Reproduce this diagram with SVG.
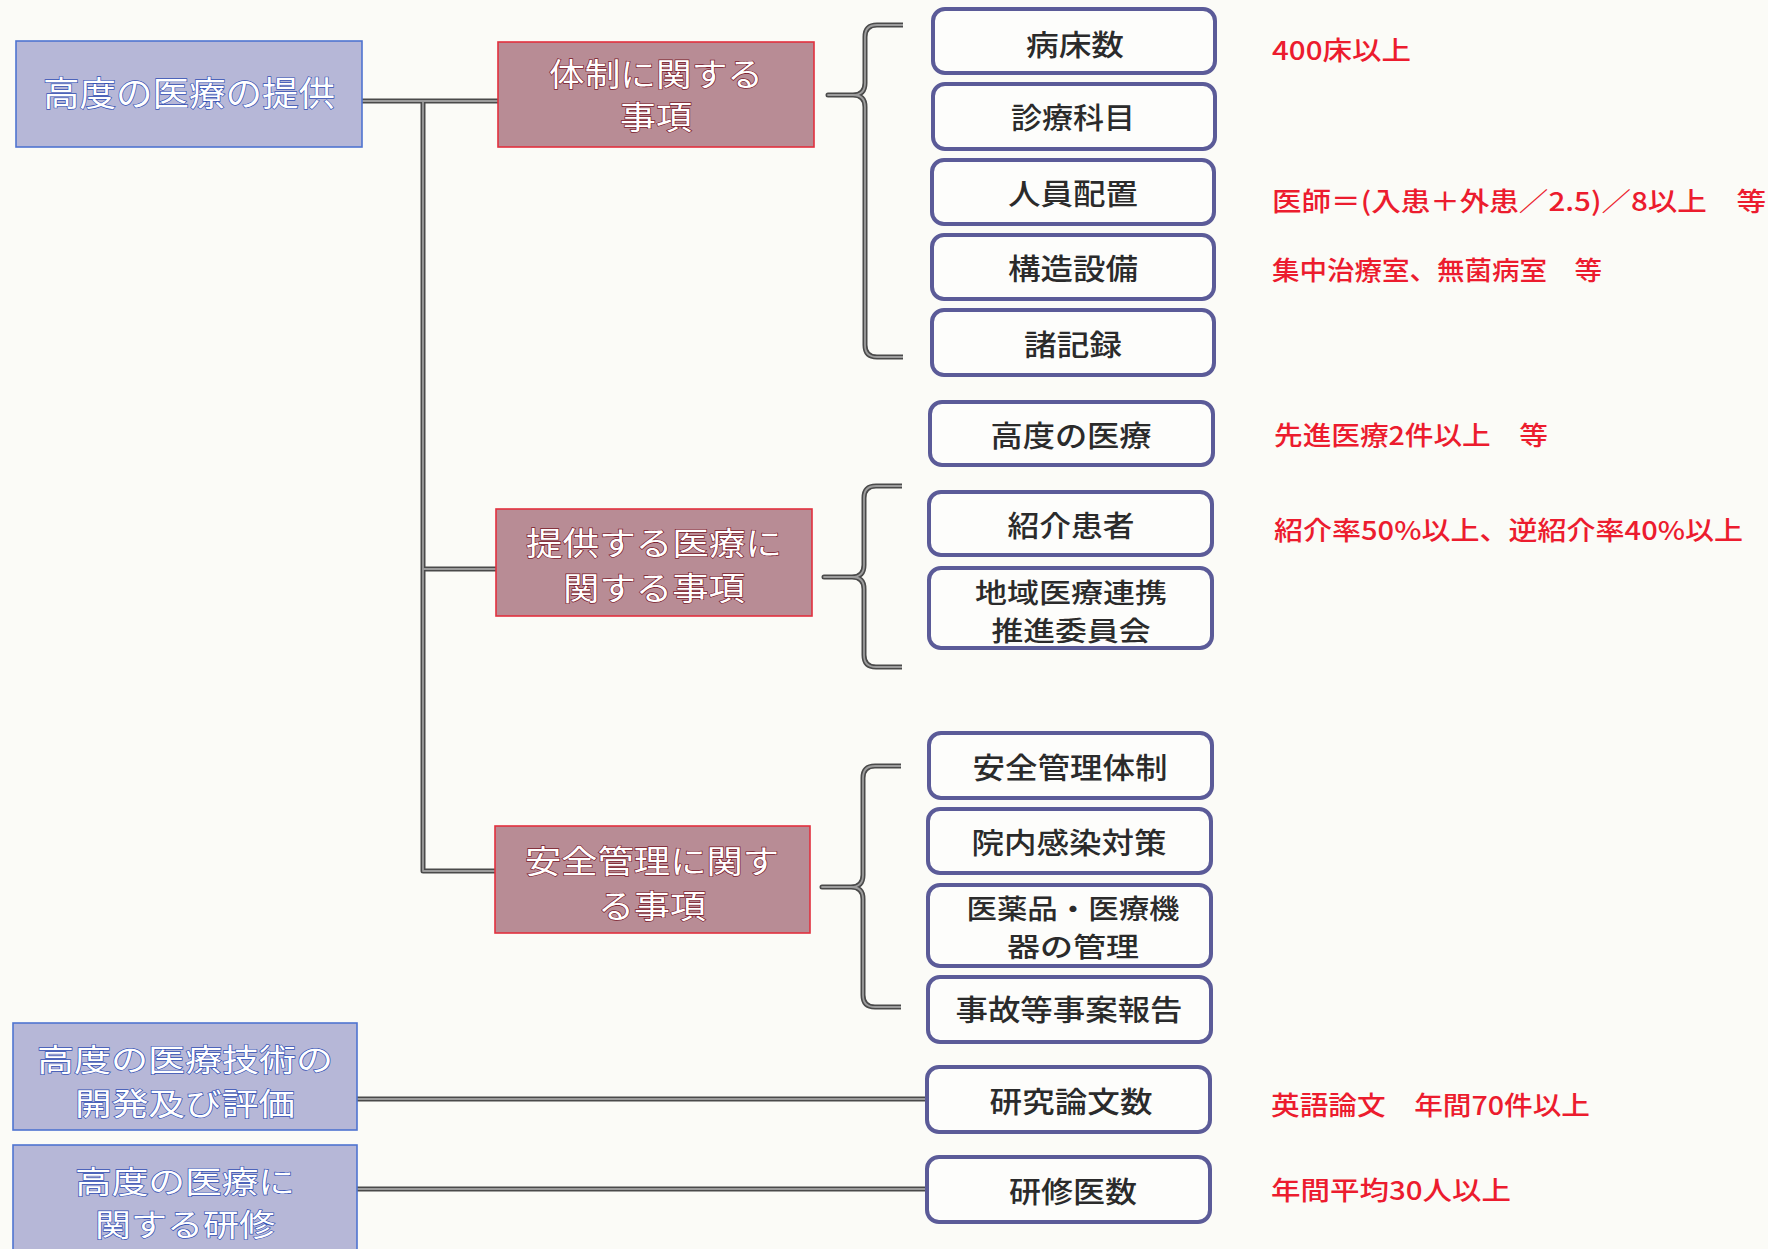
<svg xmlns="http://www.w3.org/2000/svg" width="1768" height="1249" viewBox="0 0 1768 1249">
<style>
text{font-family:"Noto Sans CJK JP","Noto Sans CJK SC",sans-serif;dominant-baseline:central;text-anchor:middle}
.bb{fill:#b6b7d7;stroke:#4f74d0;stroke-width:1.6}
.bt{fill:#ffffff;stroke:#3552b5;stroke-width:1.3;paint-order:stroke;font-size:34px}
.bt2{font-size:31px}
.rb{fill:#b88c95;stroke:#e2303e;stroke-width:1.6}
.rt{fill:#ffffff;stroke:#7a1a2a;stroke-width:1.3;paint-order:stroke;font-size:32px}
.wb{fill:#fdfdfb;stroke:#5b5b98;stroke-width:4}
.wt{fill:#2b2b2b;font-size:29px;font-weight:500}
.wt2{font-size:27px}
.red{fill:#ec1c2e;font-size:26px;font-weight:500;text-anchor:start}
.c1{fill:none;stroke:#4a4a4a;stroke-width:5;stroke-linejoin:round}
.c2{fill:none;stroke:#9c9c9c;stroke-width:1.8;stroke-linejoin:round}
</style>
<rect width="1768" height="1249" fill="#fbfbf7"/>
<g id="connectors">
<path class="c1" d="M362 101H498M423 101V871H496M423 569H497M357 1099H928M357 1189H928"/>
<path class="c1" d="M903 25H877Q865 25 865 37V83Q865 95 853 95H828H853Q865 95 865 107V345Q865 357 877 357H903"/>
<path class="c1" d="M902 486H876Q864 486 864 498V565Q864 577 852 577H824H852Q864 577 864 589V655Q864 667 876 667H902"/>
<path class="c1" d="M901 766H875Q863 766 863 778V875Q863 887 851 887H822H851Q863 887 863 899V995Q863 1007 875 1007H901"/>
<path class="c2" d="M362 101H498M423 101V871H496M423 569H497M357 1099H928M357 1189H928"/>
<path class="c2" d="M903 25H877Q865 25 865 37V83Q865 95 853 95H828H853Q865 95 865 107V345Q865 357 877 357H903"/>
<path class="c2" d="M902 486H876Q864 486 864 498V565Q864 577 852 577H824H852Q864 577 864 589V655Q864 667 876 667H902"/>
<path class="c2" d="M901 766H875Q863 766 863 778V875Q863 887 851 887H822H851Q863 887 863 899V995Q863 1007 875 1007H901"/>
</g>
<g id="blue1"><rect class="bb" x="16" y="41" width="346" height="106"/><text class="bt" x="189" y="91" textLength="292" lengthAdjust="spacingAndGlyphs">高度の医療の提供</text></g>
<g id="blue2"><rect class="bb" x="13" y="1023" width="344" height="107"/><text class="bt bt2" x="185" y="1057" textLength="296" lengthAdjust="spacingAndGlyphs">高度の医療技術の</text><text class="bt bt2" x="185" y="1101" textLength="220" lengthAdjust="spacingAndGlyphs">開発及び評価</text></g>
<g id="blue3"><rect class="bb" x="13" y="1145" width="344" height="110"/><text class="bt bt2" x="185" y="1179" textLength="220" lengthAdjust="spacingAndGlyphs">高度の医療に</text><text class="bt bt2" x="185" y="1222" textLength="180" lengthAdjust="spacingAndGlyphs">関する研修</text></g>
<g id="red1"><rect class="rb" x="498" y="42" width="316" height="105"/><text class="rt" x="656" y="72" textLength="214" lengthAdjust="spacingAndGlyphs">体制に関する</text><text class="rt" x="656" y="115" textLength="72" lengthAdjust="spacingAndGlyphs">事項</text></g>
<g id="red2"><rect class="rb" x="496" y="509" width="316" height="107"/><text class="rt" x="654" y="541" textLength="256" lengthAdjust="spacingAndGlyphs">提供する医療に</text><text class="rt" x="654" y="586" textLength="182" lengthAdjust="spacingAndGlyphs">関する事項</text></g>
<g id="red3"><rect class="rb" x="495" y="826" width="315" height="107"/><text class="rt" x="652" y="859" textLength="254" lengthAdjust="spacingAndGlyphs">安全管理に関す</text><text class="rt" x="652" y="904" textLength="108" lengthAdjust="spacingAndGlyphs">る事項</text></g>
<g id="b1"><rect class="wb" x="933" y="9" width="282" height="64" rx="12"/><text class="wt" x="1075" y="43" textLength="98" lengthAdjust="spacingAndGlyphs">病床数</text></g>
<g id="b2"><rect class="wb" x="933" y="84" width="282" height="65" rx="12"/><text class="wt" x="1073" y="116" textLength="124" lengthAdjust="spacingAndGlyphs">診療科目</text></g>
<g id="b3"><rect class="wb" x="932" y="160" width="282" height="64" rx="12"/><text class="wt" x="1073" y="192" textLength="130" lengthAdjust="spacingAndGlyphs">人員配置</text></g>
<g id="b4"><rect class="wb" x="932" y="235" width="282" height="64" rx="12"/><text class="wt" x="1073" y="267" textLength="130" lengthAdjust="spacingAndGlyphs">構造設備</text></g>
<g id="b5"><rect class="wb" x="932" y="310" width="282" height="65" rx="12"/><text class="wt" x="1073" y="343" textLength="98" lengthAdjust="spacingAndGlyphs">諸記録</text></g>
<g id="b6"><rect class="wb" x="930" y="402" width="283" height="63" rx="12"/><text class="wt" x="1071" y="434" textLength="161" lengthAdjust="spacingAndGlyphs">高度の医療</text></g>
<g id="b7"><rect class="wb" x="929" y="492" width="283" height="63" rx="12"/><text class="wt" x="1071" y="524" textLength="127" lengthAdjust="spacingAndGlyphs">紹介患者</text></g>
<g id="b8"><rect class="wb" x="929" y="568" width="283" height="80" rx="12"/><text class="wt wt2" x="1071" y="591" textLength="192" lengthAdjust="spacingAndGlyphs">地域医療連携</text><text class="wt wt2" x="1071" y="629" textLength="159" lengthAdjust="spacingAndGlyphs">推進委員会</text></g>
<g id="b9"><rect class="wb" x="929" y="733" width="283" height="65" rx="12"/><text class="wt" x="1070" y="766" textLength="195" lengthAdjust="spacingAndGlyphs">安全管理体制</text></g>
<g id="b10"><rect class="wb" x="928" y="809" width="283" height="64" rx="12"/><text class="wt" x="1069" y="841" textLength="195" lengthAdjust="spacingAndGlyphs">院内感染対策</text></g>
<g id="b11"><rect class="wb" x="928" y="885" width="283" height="81" rx="12"/><text class="wt wt2" x="1073" y="907" textLength="213" lengthAdjust="spacingAndGlyphs">医薬品・医療機</text><text class="wt wt2" x="1073" y="945" textLength="132" lengthAdjust="spacingAndGlyphs">器の管理</text></g>
<g id="b12"><rect class="wb" x="928" y="977" width="283" height="65" rx="12"/><text class="wt" x="1069" y="1008" textLength="227" lengthAdjust="spacingAndGlyphs">事故等事案報告</text></g>
<g id="b13"><rect class="wb" x="927" y="1067" width="283" height="65" rx="12"/><text class="wt" x="1071" y="1100" textLength="163" lengthAdjust="spacingAndGlyphs">研究論文数</text></g>
<g id="b14"><rect class="wb" x="927" y="1157" width="283" height="65" rx="12"/><text class="wt" x="1073" y="1190" textLength="128" lengthAdjust="spacingAndGlyphs">研修医数</text></g>
<g id="notes">
<text class="red" x="1272" y="48" textLength="139" lengthAdjust="spacingAndGlyphs">400床以上</text>
<text class="red" x="1272" y="199" textLength="494" lengthAdjust="spacingAndGlyphs">医師＝(入患＋外患／2.5)／8以上　等</text>
<text class="red" x="1272" y="268" textLength="330" lengthAdjust="spacingAndGlyphs">集中治療室、無菌病室　等</text>
<text class="red" x="1274" y="433" textLength="274" lengthAdjust="spacingAndGlyphs">先進医療2件以上　等</text>
<text class="red" x="1274" y="528" textLength="469" lengthAdjust="spacingAndGlyphs">紹介率50%以上、逆紹介率40%以上</text>
<text class="red" x="1271" y="1103" textLength="319" lengthAdjust="spacingAndGlyphs">英語論文　年間70件以上</text>
<text class="red" x="1271" y="1188" textLength="240" lengthAdjust="spacingAndGlyphs">年間平均30人以上</text>
</g>
</svg>
